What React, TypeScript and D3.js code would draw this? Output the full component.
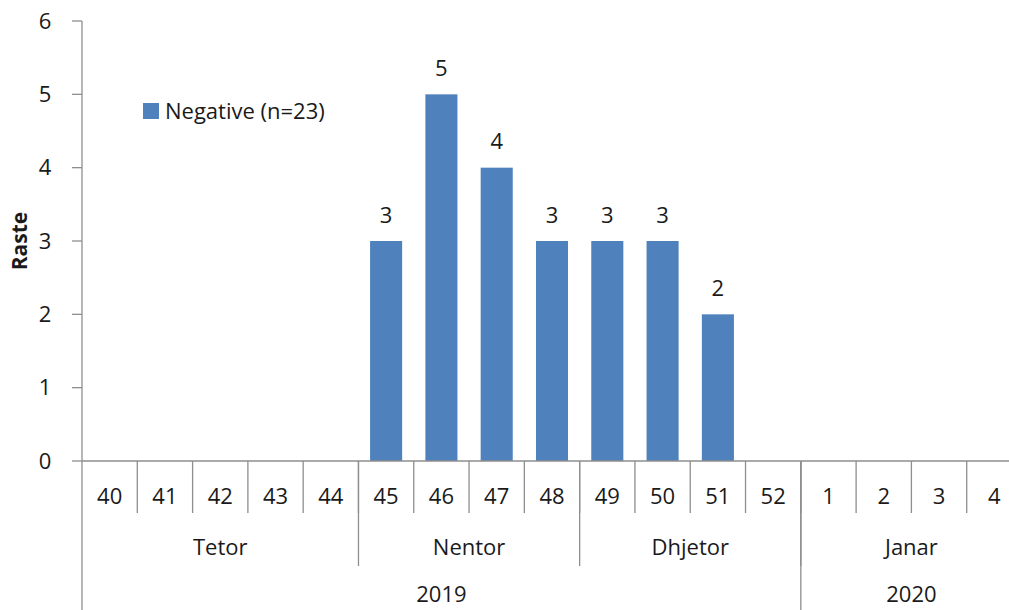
import { useEffect, useRef } from 'react';
import * as d3 from 'd3';

const weeks = ['40', '41', '42', '43', '44', '45', '46', '47', '48', '49', '50', '51', '52', '1', '2', '3', '4'];
const negative = [0, 0, 0, 0, 0, 3, 5, 4, 3, 3, 3, 2, 0, 0, 0, 0, 0];
const months = [
  { name: 'Tetor', from: 0, to: 5 },
  { name: 'Nentor', from: 5, to: 9 },
  { name: 'Dhjetor', from: 9, to: 13 },
  { name: 'Janar', from: 13, to: 17 },
];
const years = [
  { name: '2019', from: 0, to: 13 },
  { name: '2020', from: 13, to: 17 },
];
const yTicks = [0, 1, 2, 3, 4, 5, 6];
const seriesName = 'Negative (n=23)';
const yTitle = 'Raste';

const W = 1009;
const H = 610;
const FONT = '"Open Sans", sans-serif';
const FS = 22;

export default function App() {
  const svgRef = useRef<SVGSVGElement>(null);

  useEffect(() => {
    const svg = d3.select(svgRef.current);
    svg.selectAll('*').remove();

    const left = 82;
    const right = 1022; // plot runs past the picture's right edge
    const top = 21;
    const base = 461;

    const x = d3.scaleBand<string>().domain(weeks).range([left, right]).paddingInner(0).paddingOuter(0);
    const y = d3.scaleLinear().domain([0, 6]).range([base, top]);
    const step = x.step();
    const barW = step * 0.58;
    const edge = (i: number) => left + i * step;

    const axisColor = '#8e8e8e';
    const textColor = '#1a1a1a';
    const points = negative.map((v, i) => ({ v, w: weeks[i] })).filter(d => d.v > 0);

    // bars
    svg.append('g')
      .selectAll('rect')
      .data(points)
      .enter()
      .append('rect')
      .attr('x', d => x(d.w)! + (step - barW) / 2)
      .attr('y', d => y(d.v))
      .attr('width', barW)
      .attr('height', d => base - y(d.v))
      .attr('fill', '#4f81bd');

    // data labels
    svg.append('g')
      .selectAll('text')
      .data(points)
      .enter()
      .append('text')
      .attr('x', d => x(d.w)! + step / 2)
      .attr('y', d => y(d.v) - 26)
      .attr('dy', '0.35em')
      .attr('text-anchor', 'middle')
      .attr('font-family', FONT)
      .attr('font-size', FS)
      .attr('fill', textColor)
      .text(d => d.v);

    // y axis
    const ya = svg.append('g');
    ya.append('line').attr('x1', left).attr('x2', left).attr('y1', top).attr('y2', H)
      .attr('stroke', axisColor).attr('stroke-width', 1.3);
    yTicks.forEach(t => {
      ya.append('line').attr('x1', left - 10).attr('x2', left).attr('y1', y(t)).attr('y2', y(t))
        .attr('stroke', axisColor).attr('stroke-width', 1.3);
      ya.append('text')
        .attr('x', 45).attr('y', y(t)).attr('dy', '0.35em')
        .attr('text-anchor', 'middle')
        .attr('font-family', FONT).attr('font-size', FS).attr('fill', textColor)
        .text(t);
    });
    svg.append('text')
      .attr('transform', `translate(27,${241}) rotate(-90)`)
      .attr('text-anchor', 'middle')
      .attr('font-family', FONT).attr('font-size', 21).attr('font-weight', 'bold').attr('fill', textColor)
      .text(yTitle);

    // x axis, three levels
    const xa = svg.append('g');
    xa.append('line').attr('x1', left).attr('x2', W).attr('y1', base).attr('y2', base)
      .attr('stroke', axisColor).attr('stroke-width', 1.3);
    weeks.forEach((w, i) => {
      if (i > 0) {
        xa.append('line').attr('x1', edge(i)).attr('x2', edge(i)).attr('y1', base).attr('y2', 513)
          .attr('stroke', axisColor).attr('stroke-width', 1.3);
      }
      xa.append('text')
        .attr('x', x(w)! + step / 2).attr('y', 496).attr('dy', '0.35em')
        .attr('text-anchor', 'middle')
        .attr('font-family', FONT).attr('font-size', FS).attr('fill', textColor)
        .text(w);
    });
    months.forEach(m => {
      if (m.from > 0) {
        xa.append('line').attr('x1', edge(m.from)).attr('x2', edge(m.from)).attr('y1', base).attr('y2', 566)
          .attr('stroke', axisColor).attr('stroke-width', 1.3);
      }
      xa.append('text')
        .attr('x', (edge(m.from) + edge(m.to)) / 2).attr('y', 547).attr('dy', '0.35em')
        .attr('text-anchor', 'middle')
        .attr('font-family', FONT).attr('font-size', FS).attr('fill', textColor)
        .text(m.name);
    });
    years.forEach(yr => {
      if (yr.from > 0) {
        xa.append('line').attr('x1', edge(yr.from)).attr('x2', edge(yr.from)).attr('y1', base).attr('y2', H)
          .attr('stroke', axisColor).attr('stroke-width', 1.3);
      }
      xa.append('text')
        .attr('x', (edge(yr.from) + edge(yr.to)) / 2).attr('y', 594).attr('dy', '0.35em')
        .attr('text-anchor', 'middle')
        .attr('font-family', FONT).attr('font-size', FS).attr('fill', textColor)
        .text(yr.name);
    });

    // legend
    const lg = svg.append('g').attr('transform', 'translate(143,103)');
    lg.append('rect').attr('width', 16).attr('height', 16).attr('fill', '#4f81bd');
    lg.append('text').attr('x', 22).attr('y', 8).attr('dy', '0.35em')
      .attr('font-family', FONT).attr('font-size', FS).attr('fill', textColor)
      .text(seriesName);
  }, []);

  return (
    <div style={{ position: 'fixed', left: 0, top: 0, width: W, height: H, background: '#fff' }}>
      <svg ref={svgRef} width={W} height={H} style={{ display: 'block' }} />
    </div>
  );
}
